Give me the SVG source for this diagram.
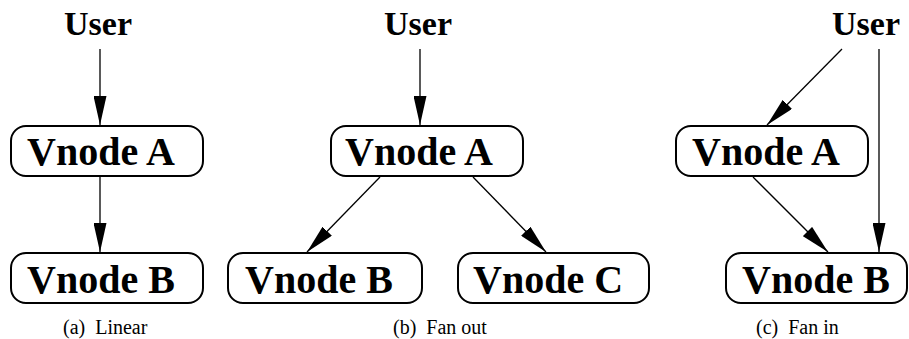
<svg xmlns="http://www.w3.org/2000/svg" width="909" height="339" viewBox="0 0 909 339">
  <style>
    .box { fill: #fff; stroke: #000; stroke-width: 2; }
    .lbl { font-weight: bold; font-size: 40px; fill: #000; }
    .usr { font-weight: bold; font-size: 34px; fill: #000; }
    .cap { font-size: 20px; fill: #000; }
    .edge { stroke: #000; stroke-width: 1.3; fill: none; marker-end: url(#head); }
  </style>
  <defs>
    <marker id="head" viewBox="0 0 29 13" markerWidth="29" markerHeight="13" refX="29" refY="6.5" orient="auto" markerUnits="userSpaceOnUse">
      <path d="M0,0 L29,6.5 L0,13 Z" fill="#000"/>
    </marker>
  </defs>

  <rect width="909" height="339" fill="#fff"/>

  <g font-family="'Liberation Serif', serif">
    <!-- (a) linear -->
    <g id="a-user"><text class="usr" x="64" y="35">User</text></g>
    <g id="a-vnodeA"><rect class="box" x="11" y="126" width="192" height="50" rx="15"/><text class="lbl" x="27" y="165">Vnode A</text></g>
    <g id="a-vnodeB"><rect class="box" x="11" y="253" width="192" height="50" rx="15"/><text class="lbl" x="27" y="293">Vnode B</text></g>

    <!-- (b) fan out -->
    <g id="b-user"><text class="usr" x="384" y="35">User</text></g>
    <g id="b-vnodeA"><rect class="box" x="331" y="126" width="192" height="50" rx="15"/><text class="lbl" x="345" y="165">Vnode A</text></g>
    <g id="b-vnodeB"><rect class="box" x="228" y="253" width="194" height="50" rx="15"/><text class="lbl" x="245" y="293">Vnode B</text></g>
    <g id="b-vnodeC"><rect class="box" x="458" y="253" width="191" height="50" rx="15"/><text class="lbl" x="473" y="293">Vnode C</text></g>

    <!-- (c) fan in -->
    <g id="c-user"><text class="usr" x="832" y="35">User</text></g>
    <g id="c-vnodeA"><rect class="box" x="676" y="126" width="192" height="50" rx="15"/><text class="lbl" x="692" y="165">Vnode A</text></g>
    <g id="c-vnodeB"><rect class="box" x="726" y="253" width="181" height="50" rx="15"/><text class="lbl" x="742" y="293">Vnode B</text></g>

    <g id="captions">
      <text class="cap" x="63" y="334">(a)<tspan dx="10">Linear</tspan></text>
      <text class="cap" x="393" y="334">(b)<tspan dx="10">Fan out</tspan></text>
      <text class="cap" x="756" y="334">(c)<tspan dx="10">Fan in</tspan></text>
    </g>
  </g>

  <g id="connectors">
    <line class="edge" x1="100" y1="49" x2="100" y2="125"/>
    <line class="edge" x1="100" y1="177" x2="100" y2="252"/>
    <line class="edge" x1="420" y1="49" x2="420" y2="125"/>
    <line class="edge" x1="380" y1="177" x2="307" y2="252"/>
    <line class="edge" x1="473" y1="177" x2="546" y2="252"/>
    <line class="edge" x1="842" y1="49" x2="767" y2="125"/>
    <line class="edge" x1="879" y1="49" x2="879" y2="252"/>
    <line class="edge" x1="753" y1="177" x2="828" y2="252"/>
  </g>
</svg>
